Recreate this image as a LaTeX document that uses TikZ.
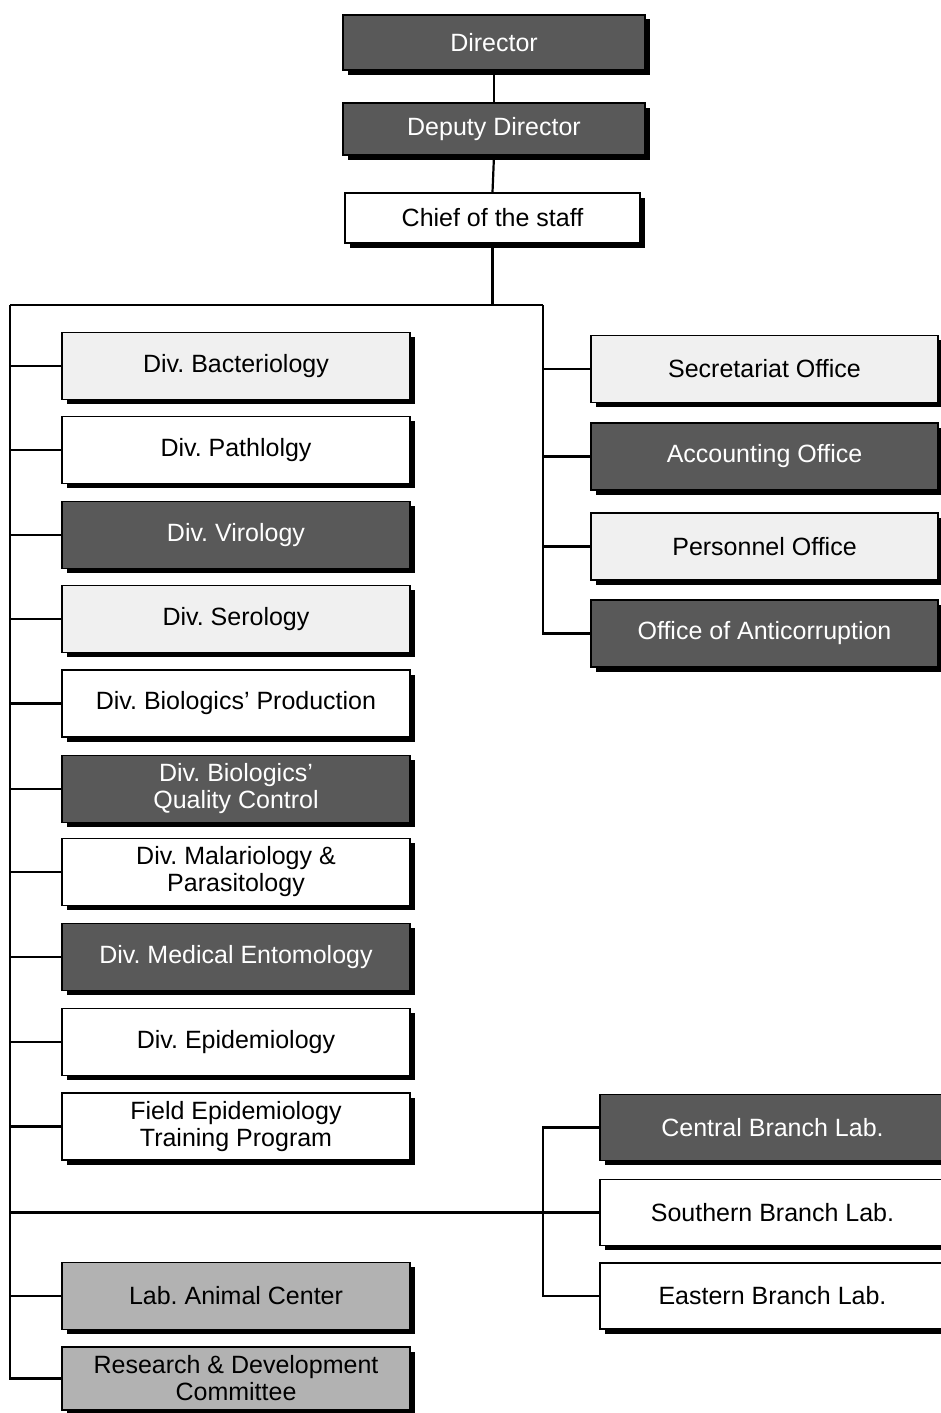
\documentclass[tikz,border=0pt]{standalone}
\usepackage{fontspec}
\setmainfont{Liberation Sans}
\usetikzlibrary{shadows}
\begin{document}
\frenchspacing
\begin{tikzpicture}[x=1pt,y=-1pt,
  base/.style={draw=black, line width=1.6pt, rectangle, inner sep=0pt, align=center,
    font=\fontsize{25}{27}\selectfont,
    drop shadow={fill=black, opacity=1, shadow xshift=4.5pt, shadow yshift=-4.5pt}},
  plainbox/.style={base, fill=white, text=black},
  lightbox/.style={base, fill=gray!12, text=black},
  darkbox/.style={base, fill=gray!70!black, text=white},
  midbox/.style={base, fill=gray!60, text=black},
  leftbox/.style={minimum width=348pt, minimum height=67pt},
  rightbox/.style={minimum width=347pt, minimum height=67pt},
  labbox/.style={minimum width=345pt, minimum height=66pt},
  conn/.style={draw=black, line width=2.2pt}
]
\useasboundingbox (0,0) rectangle (941,1413);
\fill[white] (0,0) rectangle (941,1413);

% top chain
\node[darkbox, minimum width=302pt, minimum height=55pt] (dir) at (494,42.5) {Director};
\node[darkbox, minimum width=302pt, minimum height=52pt] (dep) at (494,129) {Deputy Director};
\node[plainbox, minimum width=295pt, minimum height=50pt] (chief) at (492.5,218) {Chief of the staff};

% left column
\node[lightbox, leftbox] (bact) at (236,366) {Div. Bacteriology};
\node[plainbox, leftbox] (path) at (236,450) {Div. Pathlolgy};
\node[darkbox, leftbox] (viro) at (236,535) {Div. Virology};
\node[lightbox, leftbox] (sero) at (236,619) {Div. Serology};
\node[plainbox, leftbox] (bprod) at (236,703.5) {Div. Biologics' Production};
\node[darkbox, leftbox] (qc) at (236,789) {Div. Biologics'\\Quality Control};
\node[plainbox, leftbox] (mal) at (236,872) {Div. Malariology \&\\Parasitology};
\node[darkbox, leftbox] (ento) at (236,957) {Div. Medical Entomology};
\node[plainbox, leftbox] (epi) at (236,1042) {Div. Epidemiology};
\node[plainbox, leftbox] (fetp) at (236,1126.5) {Field Epidemiology\\Training Program};
\node[midbox, leftbox] (lac) at (236,1296) {Lab. Animal Center};
\node[midbox, leftbox, minimum height=63pt] (rnd) at (236,1378.5) {Research \& Development\\Committee};

% right column
\node[lightbox, rightbox] (sec) at (764.5,369) {Secretariat Office};
\node[darkbox, rightbox] (acc) at (764.5,456.5) {Accounting Office};
\node[lightbox, rightbox] (pers) at (764.5,546.5) {Personnel Office};
\node[darkbox, rightbox] (anti) at (764.5,633.5) {Office of Anticorruption};

% branch labs
\node[darkbox, labbox] (cbl) at (772.5,1127.5) {Central Branch Lab.};
\node[plainbox, labbox] (sbl) at (772.5,1212.5) {Southern Branch Lab.};
\node[plainbox, labbox] (ebl) at (772.5,1296) {Eastern Branch Lab.};

% junction coordinates
\coordinate (top) at (492.5,305);
\coordinate (tl) at (10,305);
\coordinate (tr) at (543,305);
\coordinate (bj) at (543,1212.5);

% connectors
\draw[conn] (dir.south) -- (dep.north);
\draw[conn] (dep.south) -- (chief.north);
\draw[conn] (chief.south) -- (top);
\draw[conn] (tl) -- (tr);
\draw[conn] (tl) |- (rnd.west);
\foreach \n in {bact,path,viro,sero,bprod,qc,mal,ento,epi,fetp,lac}
  \draw[conn] (tl |- \n.west) -- (\n.west);
\draw[conn] (tr) |- (anti.west);
\foreach \n in {sec,acc,pers}
  \draw[conn] (tr |- \n.west) -- (\n.west);
\draw[conn] (tl |- sbl.west) -- (sbl.west);
\draw[conn] (cbl.west) -| (bj) |- (ebl.west);
\end{tikzpicture}
\end{document}
